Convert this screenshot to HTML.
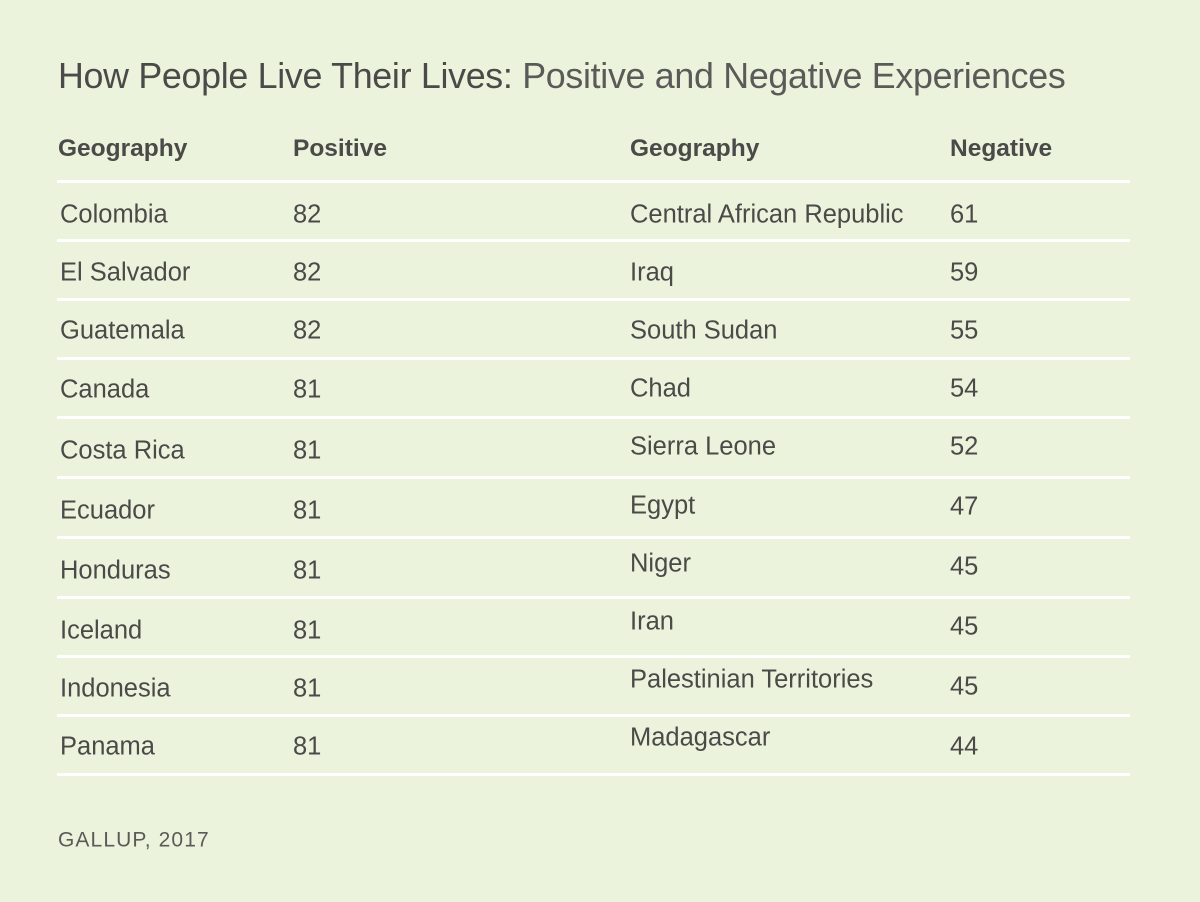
<!DOCTYPE html>
<html><head><meta charset="utf-8"><style>
body{margin:0;width:1200px;height:902px;background:#ecf3dc;font-family:"Liberation Sans",sans-serif;color:#4a4a48;position:relative;overflow:hidden}
.t{position:absolute;white-space:nowrap;line-height:1;transform:translateY(-50%)}
.line{position:absolute;left:57px;width:1073px;height:3px;background:#fff}
.h{font-weight:bold;font-size:24.5px}
.c{font-size:25.5px}
</style></head><body>
<div class="t" style="left:58px;top:77px;font-size:35.8px;letter-spacing:-0.3px"><span>How People Live Their Lives:</span><span style="color:#5a5a58"> Positive and Negative Experiences</span></div>
<div class="t h" style="left:58px;top:149px">Geography</div>
<div class="t h" style="left:293px;top:149px">Positive</div>
<div class="t h" style="left:630px;top:149px">Geography</div>
<div class="t h" style="left:950px;top:149px">Negative</div>
<div class="t" style="left:58px;top:840px;font-size:21px;letter-spacing:1.1px;color:#5a5a58">GALLUP, 2017</div>
<script>
const posNames=["Colombia","El Salvador","Guatemala","Canada","Costa Rica","Ecuador","Honduras","Iceland","Indonesia","Panama"];
const posValues=[82,82,82,81,81,81,81,81,81,81];
const negNames=["Central African Republic","Iraq","South Sudan","Chad","Sierra Leone","Egypt","Niger","Iran","Palestinian Territories","Madagascar"];
const negValues=[61,59,55,54,52,47,45,45,45,44];
const lineY=[180,239,298,357,416,476,536,596,655,714,773];
const leftY=[215,273,331,390,451,511,571,631,689,747];
const rightNameY=[215,273,331,389,447,506,564,622,680,738];
const rightValY=[215,273,331,389,447,507,567,627,687,747];
const root=document.body;
lineY.forEach((y,i)=>{const d=document.createElement('div');d.className='line';d.style.top=y+'px';


root.appendChild(d);});
function txt(s,x,y,name){const d=document.createElement('div');d.className='t c';d.textContent=s;d.style.left=x+'px';d.style.top=y+'px';


root.appendChild(d);}
posNames.forEach((n,i)=>{txt(n,60,leftY[i],'positive-country');txt(String(posValues[i]),293,leftY[i],'positive-value');});
negNames.forEach((n,i)=>{txt(n,630,rightNameY[i],'negative-country');txt(String(negValues[i]),950,rightValY[i],'negative-value');});
</script>
</body></html>
